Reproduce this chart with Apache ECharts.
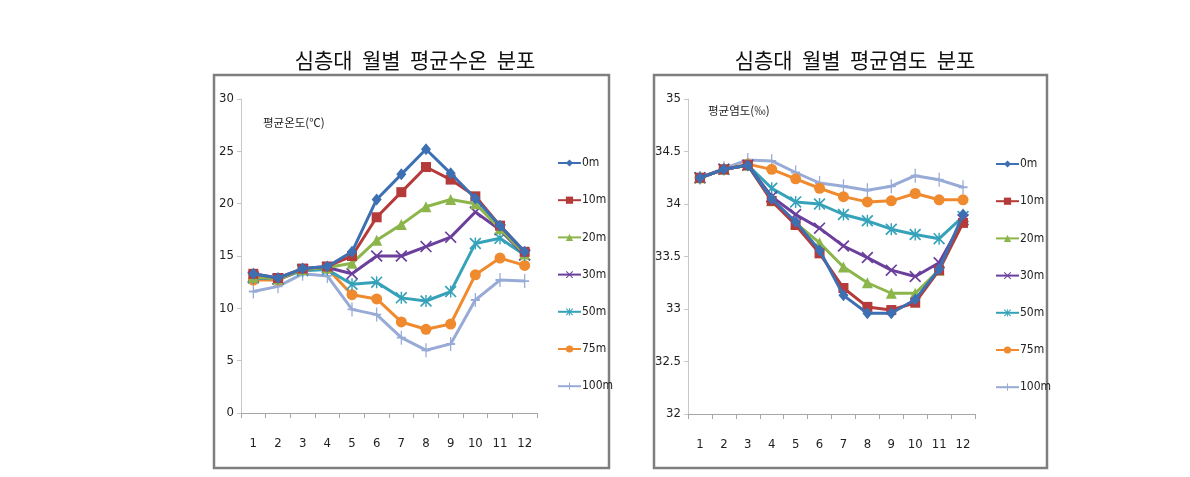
<!DOCTYPE html>
<html><head><meta charset="utf-8">
<script src="https://cdn.jsdelivr.net/npm/echarts@6/dist/echarts.min.js"></script>
<style>html,body{margin:0;padding:0;background:#fff}#c{width:1190px;height:477px}</style>
</head><body><div id="c"></div>
<script>
const months = ['1','2','3','4','5','6','7','8','9','10','11','12'];
const depths = ['0m','10m','20m','30m','50m','75m','100m'];
const tickTemp = [0,5,10,15,20,25,30];
const tickSal = [32,32.5,33,33.5,34,34.5,35];

const temp0m   = [13.3,12.9,13.8,14.0,15.4,20.4,22.8,25.2,22.9,20.5,17.9,15.4];
const temp10m  = [13.3,12.9,13.8,14.0,15.0,18.7,21.1,23.5,22.3,20.7,17.9,15.4];
const temp20m  = [13.0,12.8,13.7,13.9,14.3,16.5,18.0,19.7,20.4,20.0,17.6,15.2];
const temp30m  = [13.0,12.8,13.7,13.9,13.3,15.0,15.0,15.9,16.8,19.2,17.5,15.1];
const temp50m  = [12.9,12.8,13.6,13.7,12.3,12.5,11.0,10.7,11.6,16.2,16.7,15.1];
const temp75m  = [12.7,12.7,13.7,13.8,11.3,10.9,8.7,8.0,8.5,13.2,14.8,14.1];
const temp100m = [11.6,12.1,13.3,13.1,9.9,9.4,7.2,6.0,6.6,10.8,12.7,12.6];

const sal0m   = [34.25,34.33,34.37,34.05,33.83,33.56,33.13,32.96,32.96,33.09,33.38,33.90];
const sal10m  = [34.25,34.33,34.37,34.03,33.80,33.53,33.20,33.02,32.99,33.06,33.37,33.82];
const sal20m  = [34.25,34.33,34.37,34.03,33.82,33.63,33.40,33.25,33.15,33.15,33.37,33.85];
const sal30m  = [34.25,34.33,34.37,34.07,33.90,33.77,33.60,33.49,33.37,33.31,33.44,33.85];
const sal50m  = [34.25,34.33,34.37,34.15,34.02,34.00,33.90,33.84,33.76,33.71,33.67,33.88];
const sal75m  = [34.25,34.33,34.38,34.33,34.24,34.15,34.07,34.02,34.03,34.10,34.04,34.04];
const sal100m = [34.25,34.34,34.42,34.41,34.30,34.20,34.17,34.13,34.17,34.27,34.23,34.16];

const tempData = [temp0m,temp10m,temp20m,temp30m,temp50m,temp75m,temp100m];
const salData = [sal0m,sal10m,sal20m,sal30m,sal50m,sal75m,sal100m];

const colors = ['#3d6fb3','#b53a3a','#8cb64b','#6b3f9c','#35a2ba','#f08a2e','#98abd6'];
const symX = 'path://M0,1 L1,0 L10,9 L9,10 Z M9,0 L10,1 L1,10 L0,9 Z';
const symStar = 'path://M0,1 L1,0 L10,9 L9,10 Z M9,0 L10,1 L1,10 L0,9 Z M4.4,0 L5.6,0 L5.6,10 L4.4,10 Z';
const symPlus = 'path://M4.3,0 L5.7,0 L5.7,10 L4.3,10 Z M0,4.3 L10,4.3 L10,5.7 L0,5.7 Z';
const symbols = ['diamond','rect','triangle',symX,symStar,'circle',symPlus];
const symSizes = [[10,12],10,11,12,12,11,[9,14]];

const FONT = '"Liberation Sans Narrow","DejaVu Sans Condensed","Liberation Sans",sans-serif';

function makeSeries(data, axisIdx){
  return depths.map((d,i)=>({
    name:d, type:'line', xAxisIndex:axisIdx, yAxisIndex:axisIdx,
    data:data[i], symbol:symbols[i], symbolSize:symSizes[i],
    lineStyle:{width:3,color:colors[i]},
    itemStyle:{color:colors[i]},
    emphasis:{disabled:true}, animation:false, z:10-i
  }));
}

function xAxis(gi){
  return {type:'category',gridIndex:gi,data:months,boundaryGap:true,
    axisLine:{lineStyle:{color:'#a6a6a6',width:1}},
    axisTick:{show:true,length:5,lineStyle:{color:'#a6a6a6'}},
    axisLabel:{color:'#222',fontFamily:FONT,fontSize:13,margin:24},
    splitLine:{show:false}};
}
function yAxis(gi,min,max,interval){
  return {type:'value',gridIndex:gi,min:min,max:max,interval:interval,
    axisLine:{show:true,lineStyle:{color:'#c8c8c8'}},
    axisTick:{show:true,length:4,lineStyle:{color:'#c8c8c8'}},
    axisLabel:{color:'#222',fontFamily:FONT,fontSize:13,margin:7},
    splitLine:{show:false}};
}

const chart = echarts.init(document.getElementById('c'),null,{renderer:'canvas'});
chart.setOption({
  backgroundColor:'#fff',
  animation:false,
  title:[
    {text:'심층대  월별  평균수온  분포',left:410,top:45,textAlign:'center',
     textStyle:{fontFamily:'"Noto Sans CJK KR",sans-serif',fontWeight:'normal',fontSize:21,color:'#111'}},
    {text:'심층대  월별  평균염도  분포',left:850,top:45,textAlign:'center',
     textStyle:{fontFamily:'"Noto Sans CJK KR",sans-serif',fontWeight:'normal',fontSize:21,color:'#111'}}
  ],
  graphic:[
    {type:'rect',shape:{x:214,y:75,width:395,height:393},style:{fill:'none',stroke:'#7f7f7f',lineWidth:2.5},silent:true},
    {type:'rect',shape:{x:654,y:75,width:393,height:393},style:{fill:'none',stroke:'#7f7f7f',lineWidth:2.5},silent:true},
    {type:'text',left:263,top:117,style:{text:'평균온도(℃)',font:'11.5px "Noto Sans CJK KR",sans-serif',fill:'#222'}},
    {type:'text',left:708,top:105,style:{text:'평균염도(‰)',font:'11.5px "Noto Sans CJK KR",sans-serif',fill:'#222'}}
  ],
  legend:[
    {data:depths,orient:'vertical',left:552,top:152,itemGap:25.2,itemWidth:23,itemHeight:9,
     textStyle:{fontFamily:FONT,fontSize:12,color:'#222',padding:[0,0,0,-4]},
     selectedMode:false},
    {data:depths.map(d=>({name:d})),orient:'vertical',left:990,top:153,itemGap:25.2,itemWidth:23,itemHeight:9,
     textStyle:{fontFamily:FONT,fontSize:12,color:'#222',padding:[0,0,0,-4]}, selectedMode:false}
  ],
  grid:[
    {left:241,top:99,width:296,height:314,containLabel:false},
    {left:688,top:99,width:287,height:315,containLabel:false}
  ],
  xAxis:[xAxis(0),xAxis(1)],
  yAxis:[yAxis(0,0,30,5),yAxis(1,32,35,0.5)],
  series:[...makeSeries(tempData,0),...makeSeries(salData,1)]
});
</script>
</body></html>
